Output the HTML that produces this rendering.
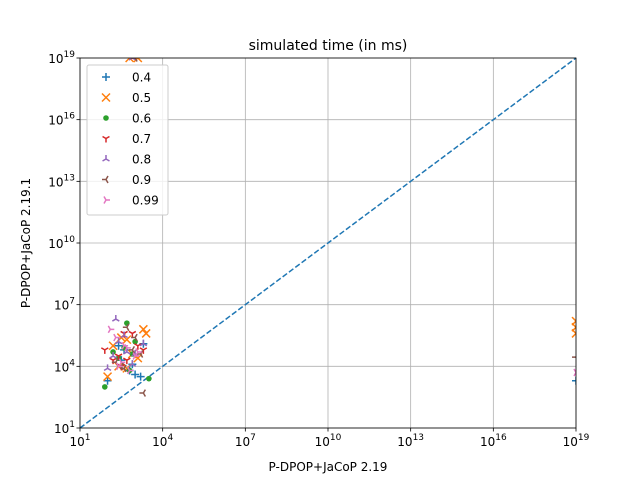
<!DOCTYPE html>
<html><head><meta charset="utf-8"><style>
body{margin:0;background:#fff;font-family:"DejaVu Sans","Liberation Sans",sans-serif}
svg text{font-family:"DejaVu Sans","Liberation Sans",sans-serif}
</style></head><body>
<svg id="c" width="640" height="480" xmlns="http://www.w3.org/2000/svg"></svg>
<script>
const seriesNames=["0.4","0.5","0.6","0.7","0.8","0.9","0.99"];
const colors=["#1f77b4","#ff7f0e","#2ca02c","#d62728","#9467bd","#8c564b","#e377c2"];
const markers=["plus","x","dot","tdown","tup","tleft","tright"];
const xTicks=[1,4,7,10,13,16,19];
const yTicks=[1,4,7,10,13,16,19];
// values as log10 exponents
const s04x=[2.0,2.9,3.0,2.6,3.3,2.5,2.8,3.2,2.4,19];
const s04y=[3.3,4.1,3.6,4.8,5.1,4.3,3.8,3.5,5.0,3.3];
const s05x=[2.4,2.0,2.7,3.4,2.9,2.2,3.3,2.7,3.1,2.5,19,19,19,2.8,3.1];
const s05y=[4.0,3.5,5.3,5.6,4.6,5.0,5.8,3.9,4.4,5.4,5.6,5.9,6.2,19,19];
const s06x=[1.9,2.7,2.8,3.5,2.6,2.4,3.0,2.9,2.2];
const s06y=[3.0,6.1,3.8,3.4,4.9,4.4,5.2,4.6,4.7];
const s07x=[1.9,2.5,2.9,3.3,2.7,2.4,3.1,2.6,2.2];
const s07y=[4.8,4.0,5.6,4.8,4.3,4.5,5.0,5.6,4.3];
const s08x=[2.3,2.0,2.6,3.0,2.9,2.4,2.7,3.3,2.2,2.9];
const s08y=[6.3,3.9,5.5,4.6,4.1,5.2,4.7,5.1,4.5,19];
const s09x=[2.7,3.0,3.3,2.5,2.9,2.3,3.2,2.6,19,3.0];
const s09y=[5.9,5.4,2.7,4.0,4.8,4.2,4.6,3.9,4.45,19];
const s99x=[2.1,2.6,3.0,2.4,2.8,2.3,3.1,2.5,2.7,19];
const s99y=[5.8,5.0,4.5,4.0,3.8,5.4,4.7,4.2,4.9,3.7];
const allX=[s04x,s05x,s06x,s07x,s08x,s09x,s99x];
const allY=[s04y,s05y,s06y,s07y,s08y,s09y,s99y];
const L=80,R=576,T=58,B=428,lo=1,hi=19;
const X=v=>L+(v-lo)/(hi-lo)*(R-L);
const Y=v=>B-(v-lo)/(hi-lo)*(B-T);
const NS="http://www.w3.org/2000/svg",svg=document.getElementById('c');
function mk(t,a,p){const e=document.createElementNS(NS,t);for(const k in a)e.setAttribute(k,a[k]);(p||svg).appendChild(e);return e;}
const defs=mk('defs',{});const cp=mk('clipPath',{id:'cp'},defs);mk('rect',{x:L,y:T,width:R-L,height:B-T},cp);
const grid=mk('g',{});


xTicks.forEach(t=>{mk('line',{x1:X(t),x2:X(t),y1:T,y2:B,stroke:'#b0b0b0','stroke-width':0.8},grid);
 mk('line',{x1:X(t),x2:X(t),y1:B,y2:B+3.5,stroke:'#000','stroke-width':0.8});
 const tx=mk('text',{x:X(t),y:B+18,'text-anchor':'middle','font-size':12});tx.innerHTML='10<tspan dy="-6" font-size="9">'+t+'</tspan>';
 
 });
yTicks.forEach(t=>{mk('line',{x1:L,x2:R,y1:Y(t),y2:Y(t),stroke:'#b0b0b0','stroke-width':0.8},grid);
 mk('line',{x1:L-3.5,x2:L,y1:Y(t),y2:Y(t),stroke:'#000','stroke-width':0.8});
 const tx=mk('text',{x:L-5,y:Y(t)+5,'text-anchor':'end','font-size':12});tx.innerHTML='10<tspan dy="-6" font-size="9">'+t+'</tspan>';
 
 });
const diag=mk('line',{x1:X(lo),y1:Y(lo),x2:X(hi),y2:Y(hi),stroke:'#1f77b4','stroke-width':1.5,'stroke-dasharray':'5.5,2.4'});


function marker(g,m,x,y,c){
 const s=4;
 if(m==='plus')mk('path',{d:`M${x-s} ${y}H${x+s}M${x} ${y-s}V${y+s}`,stroke:c,'stroke-width':1.5},g);
 else if(m==='x')mk('path',{d:`M${x-s} ${y-s}L${x+s} ${y+s}M${x-s} ${y+s}L${x+s} ${y-s}`,stroke:c,'stroke-width':1.5},g);
 else if(m==='dot')mk('circle',{cx:x,cy:y,r:2.8,fill:c},g);
 else{const ang={tdown:[90,210,330],tup:[270,30,150],tleft:[180,300,60],tright:[0,120,240]}[m];
  let d='';ang.forEach(a=>{const r=a*Math.PI/180;d+=`M${x} ${y}L${x+s*Math.cos(r)} ${y+s*Math.sin(r)}`;});
  mk('path',{d:d,stroke:c,'stroke-width':1.5},g);}
}
const pts=mk('g',{'clip-path':'url(#cp)'});
allX.forEach((xs,i)=>{const g=mk('g',{},pts);
 
 
 xs.forEach((v,j)=>marker(g,markers[i],X(v),Y(allY[i][j]),colors[i]));});
const fr=mk('rect',{x:L,y:T,width:R-L,height:B-T,fill:'none',stroke:'#000','stroke-width':0.8});


const title=mk('text',{x:328,y:50,'text-anchor':'middle','font-size':14});title.textContent='simulated time (in ms)';


const xl=mk('text',{x:328,y:471,'text-anchor':'middle','font-size':12});xl.textContent='P-DPOP+JaCoP 2.19';


const yl=mk('text',{x:30,y:243,'text-anchor':'middle','font-size':12,transform:'rotate(-90 30 243)'});yl.textContent='P-DPOP+JaCoP 2.19.1';


const lg=mk('g',{});


mk('rect',{x:87,y:65,width:81,height:150,rx:2,fill:'#fff','fill-opacity':0.8,stroke:'#ccc'},lg);
seriesNames.forEach((n,i)=>{const y=77+i*20.5;const e=mk('g',{},lg);
 
 
 marker(e,markers[i],106,y,colors[i]);
 const t=mk('text',{x:132,y:y+4.5,'font-size':12},e);t.textContent=n;});
</script>
</body></html>
